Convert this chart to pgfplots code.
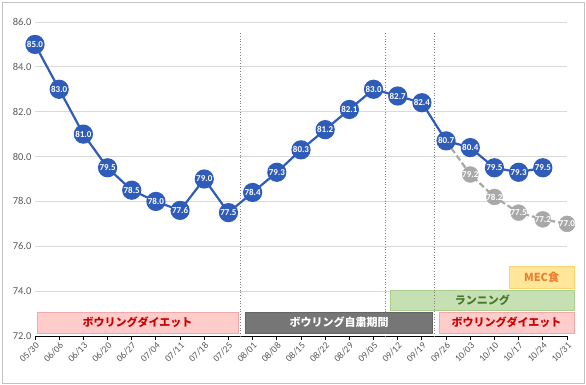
\documentclass[border=0pt]{standalone}
\usepackage{fontspec}
\setmainfont{Carlito}
\newfontfamily\jp{Noto Sans CJK JP}
\usepackage{pgfplots}
\pgfplotsset{compat=1.18}
\definecolor{mblue}{RGB}{46,92,184}
\definecolor{mgray}{RGB}{168,168,168}
\definecolor{gridgray}{RGB}{217,217,217}
\definecolor{labgray}{RGB}{89,89,89}
\definecolor{pinkfill}{RGB}{255,204,204}
\definecolor{pinkborder}{RGB}{240,170,170}
\definecolor{redtext}{RGB}{204,0,0}
\definecolor{darkbox}{RGB}{118,118,118}
\definecolor{greenfill}{RGB}{198,224,180}
\definecolor{greenborder}{RGB}{169,208,142}
\definecolor{greentext}{RGB}{70,120,40}
\definecolor{yellowfill}{RGB}{255,230,153}
\definecolor{yellowborder}{RGB}{250,210,110}
\definecolor{orangetext}{RGB}{237,125,49}
\begin{document}
\begin{tikzpicture}
\begin{axis}[
  scale only axis, width=532pt, height=314pt,
  at={(0pt,0pt)}, anchor=south west,
  xmin=0, xmax=22, ymin=72, ymax=86,
  clip=false,
  axis x line*=bottom, axis y line*=left,
  x axis line style={-, black, line width=0.9pt},
  y axis line style={draw=none},
  ytick={72,74,...,86},
  ytick style={draw=none},
  ymajorgrids,
  major grid style={draw=gridgray, line width=0.9pt},
  yticklabel style={font=\fontsize{10.5}{10.5}\selectfont, text=labgray,
    /pgf/number format/.cd, fixed, fixed zerofill, precision=1, assume math mode=true},
  xtick={0,...,22},
  xticklabels={05/30,06/06,06/13,06/20,06/27,07/04,07/11,07/18,07/25,08/01,08/08,08/15,08/22,08/29,09/05,09/12,09/19,09/26,10/03,10/10,10/17,10/24,10/31},
  xtick align=outside,
  major tick length=4pt,
  xtick style={draw=black, line width=0.9pt},
  xticklabel style={rotate=45, anchor=north east, font=\fontsize{9.5}{9.5}\selectfont, text=labgray, inner sep=1pt},
]
% period boxes
\draw[fill=pinkfill, draw=pinkborder, line width=0.6pt] (axis cs:0.08,72.13) rectangle (axis cs:8.4,73.07)
  node[midway, text=redtext, font=\jp\bfseries\fontsize{11}{11}\selectfont] {ボウリングダイエット};
\draw[fill=darkbox, draw=darkbox!85!black, line width=0.6pt] (axis cs:8.7,72.13) rectangle (axis cs:16.45,73.07)
  node[midway, text=white, font=\jp\bfseries\fontsize{11}{11}\selectfont] {ボウリング自粛期間};
\draw[fill=pinkfill, draw=pinkborder, line width=0.6pt] (axis cs:16.7,72.13) rectangle (axis cs:22.3,73.07)
  node[midway, text=redtext, font=\jp\bfseries\fontsize{11}{11}\selectfont] {ボウリングダイエット};
\draw[fill=greenfill, draw=greenborder, line width=0.6pt] (axis cs:14.7,73.16) rectangle (axis cs:22.3,74.05)
  node[midway, text=greentext, font=\jp\bfseries\fontsize{11}{11}\selectfont] {ランニング};
\draw[fill=yellowfill, draw=yellowborder, line width=0.6pt] (axis cs:19.6,74.14) rectangle (axis cs:22.3,75.1)
  node[midway, text=orangetext, font=\jp\bfseries\fontsize{11}{11}\selectfont] {MEC食};
% period separators
\addplot[gray, dotted, line width=0.7pt, forget plot] coordinates {(8.5,85.5) (8.5,72)};
\addplot[gray, dotted, line width=0.7pt, forget plot] coordinates {(14.5,85.5) (14.5,72)};
\addplot[gray, dotted, line width=0.7pt, forget plot] coordinates {(16.5,85.5) (16.5,72)};
% projected series (gray)
\addplot[mgray, dashed, dash pattern=on 6pt off 3pt, line width=2.2pt, forget plot] coordinates {
  (17,80.7) (18,79.2) (19,78.2) (20,77.5) (21,77.2) (22,77.0)};
\addplot[draw=none, mark=*, mark size=8pt, mark options={fill=mgray, draw=mgray, solid},
  nodes near coords={\pgfmathprintnumber[fixed,fixed zerofill,precision=1,assume math mode=true]{\pgfplotspointmeta}},
  every node near coord/.append style={anchor=center, text=white, font=\bfseries\fontsize{9}{9}\selectfont}] coordinates {
  (18,79.2) (19,78.2) (20,77.5) (21,77.2) (22,77.0)};
% actual series (blue)
\addplot[mblue, line width=2.2pt, mark=*, mark size=8.5pt, mark options={fill=mblue, draw=mblue, solid},
  nodes near coords={\pgfmathprintnumber[fixed,fixed zerofill,precision=1,assume math mode=true]{\pgfplotspointmeta}},
  every node near coord/.append style={anchor=center, text=white, font=\bfseries\fontsize{9}{9}\selectfont}] coordinates {
  (0,85.0) (1,83.0) (2,81.0) (3,79.5) (4,78.5) (5,78.0) (6,77.6) (7,79.0) (8,77.5)
  (9,78.4) (10,79.3) (11,80.3) (12,81.2) (13,82.1) (14,83.0) (15,82.7) (16,82.4)
  (17,80.7) (18,80.4) (19,79.5) (20,79.3) (21,79.5)};
\end{axis}
\draw[gridgray!90!black, line width=0.8pt] (-33pt,-47pt) rectangle (549pt,334pt);
\pgfresetboundingbox
\useasboundingbox (-35pt,-49pt) rectangle (551pt,336pt);
\end{tikzpicture}
\end{document}
